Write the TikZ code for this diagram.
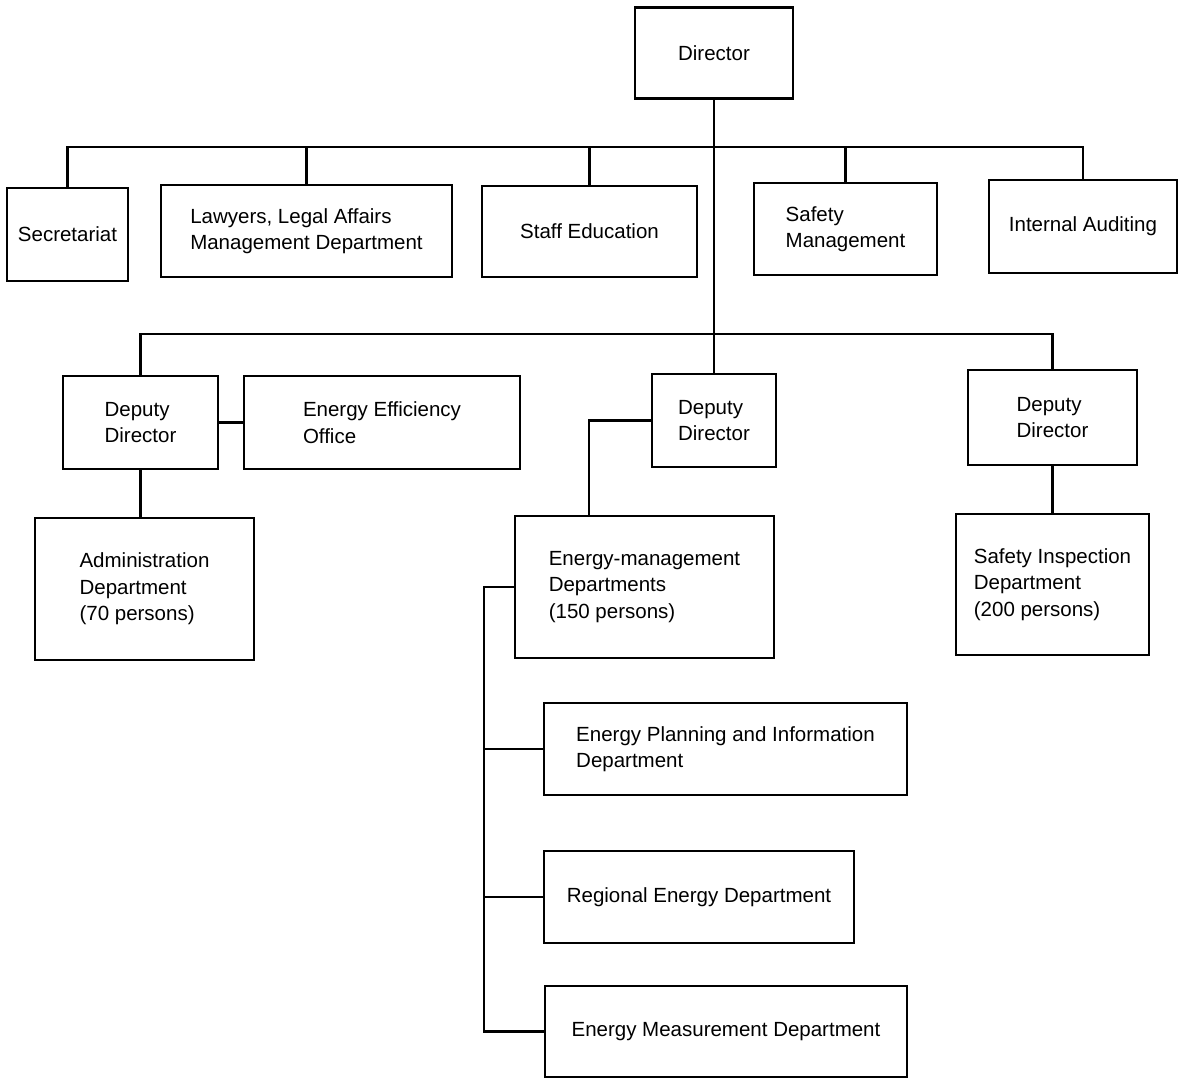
\documentclass[tikz,border=0pt]{standalone}
\usepackage{fontspec}
\setmainfont{Liberation Sans}
\usepackage{tikz}

\begin{document}
\begin{tikzpicture}[x=1pt, y=-1pt,
	box/.style={draw, black, line width=2.5pt, align=left, inner sep=2pt, font=\fontsize{20.5}{26.5}\selectfont},
	link/.style={black, line width=2.5pt}]
	\useasboundingbox (0,0) rectangle (1181,1087);

	\node[box, minimum width=158, minimum height=91] (dir) at (714,53) {Director};

	\node[box, minimum width=121, minimum height=93] (secr) at (67.5,234.5) {Secretariat};
	\node[box, minimum width=291, minimum height=92] (law) at (306.5,231) {Lawyers, Legal Affairs\\Management Department};
	\node[box, minimum width=215, minimum height=91] (staff) at (589.5,231.5) {Staff Education};
	\node[box, minimum width=183, minimum height=92] (safe) at (845.5,229) {Safety\\Management};
	\node[box, minimum width=188, minimum height=93] (audit) at (1083,226.5) {Internal Auditing};

	\node[box, minimum width=155, minimum height=93] (dd1) at (140.5,422.5) {Deputy\\Director};
	\node[box, minimum width=276, minimum height=93] (eeo) at (382,422.5) {Energy Efficiency\\Office};
	\node[box, minimum width=124, minimum height=93] (dd2) at (714,420.5) {Deputy\\Director};
	\node[box, minimum width=169, minimum height=95] (dd3) at (1052.5,417.5) {Deputy\\Director};

	\node[box, minimum width=219, minimum height=142] (adm) at (144.5,589) {Administration\\Department\\(70 persons)};
	\node[box, minimum width=259, minimum height=142] (emd) at (644.5,587) {Energy-management\\Departments\\(150 persons)};
	\node[box, minimum width=193, minimum height=141] (sid) at (1052.5,584.5) {Safety Inspection\\Department\\(200 persons)};

	\node[box, minimum width=363, minimum height=92] (plan) at (725.5,749) {Energy Planning and Information\\Department};
	\node[box, minimum width=310, minimum height=92] (reg) at (699,897) {Regional Energy Department};
	\node[box, minimum width=362, minimum height=91] (meas) at (726,1031.5) {Energy Measurement Department};

	\coordinate (topbus) at (714,147);
	\coordinate (midbus) at (714,334);
	\coordinate (spine) at (484,587);

	\draw[link] (secr.north) |- (topbus) -| (audit.north);
	\draw[link] (law.north) -- (law.north |- topbus);
	\draw[link] (staff.north) -- (staff.north |- topbus);
	\draw[link] (safe.north) -- (safe.north |- topbus);
	\draw[link] (dir.south) -- (dd2.north);

	\draw[link] (dd1.north) |- (midbus) -| (dd3.north);
	\draw[link] (dd1.east) -- (eeo.west);
	\draw[link] (dd1.south) -- (dd1.south |- adm.north);
	\draw[link] (dd2.west) -| ([xshift=-55.5]emd.north);
	\draw[link] (dd3.south) -- (sid.north);

	\draw[link] (emd.west) -- (spine) |- (meas.west);
	\draw[link] (spine |- plan.west) -- (plan.west);
	\draw[link] (spine |- reg.west) -- (reg.west);
\end{tikzpicture}
\end{document}
